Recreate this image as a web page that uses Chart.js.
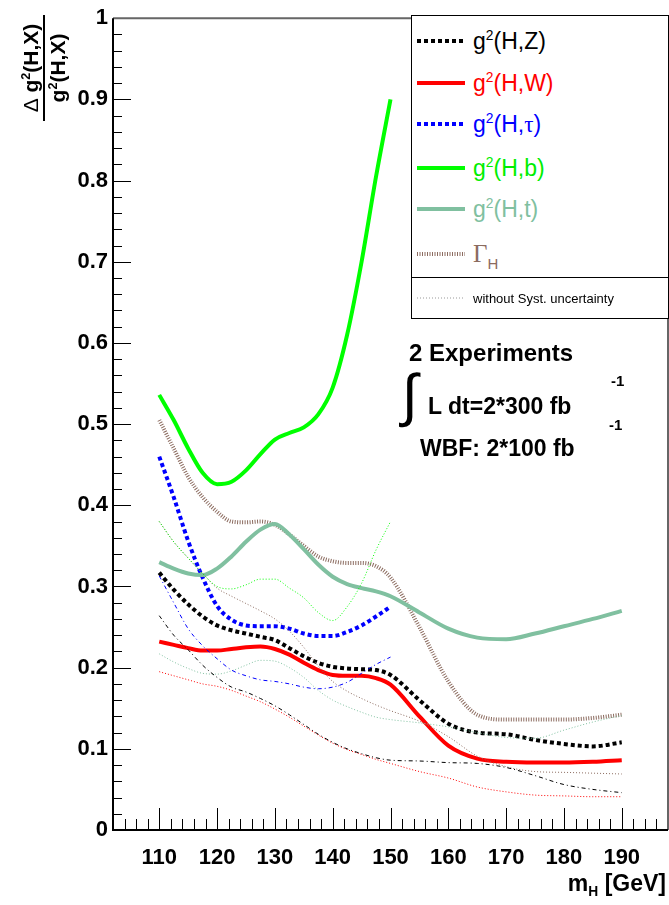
<!DOCTYPE html>
<html>
<head>
<meta charset="utf-8">
<script src="https://cdn.jsdelivr.net/npm/chart.js@4.4.1/dist/chart.umd.min.js"></script>
<style>
  body { margin: 0; background: #fff; }
  #wrap { position: relative; width: 669px; height: 905px; font-family: "Liberation Sans", Arial, sans-serif; }
  #c { position: absolute; left: 0; top: 0; }
  .abs { position: absolute; white-space: nowrap; }
  sup { font-size: 60%; vertical-align: 0; position: relative; top: -0.65em; line-height: 0; }
  sub { font-size: 60%; vertical-align: 0; position: relative; top: 0.35em; line-height: 0; }
  #legend { position: absolute; left: 411px; top: 15px; width: 258px; height: 304px; border: 1px solid #000; box-sizing: border-box; background: #fff; }
  .row { position: absolute; left: 5px; height: 30px; display: flex; align-items: center; font-size: 23px; white-space: nowrap; }
  .row svg { margin-right: 8px; }
  .serif { font-family: "Liberation Serif", "Times New Roman", serif; }
  .ann { font-weight: bold; }
</style>
</head>
<body>
<div id="wrap">
  <canvas id="c" width="669" height="905"></canvas>

  <div class="abs" style="left:18px;top:121px;width:106px;height:52px;transform-origin:0 0;transform:rotate(-90deg);font-weight:bold;font-size:21px;text-align:center;line-height:25px;">
    <div style="border-bottom:2px solid #000;"><span style="font-weight:normal">&Delta;</span> g<sup>2</sup>(H,X)</div>
    <div>g<sup>2</sup>(H,X)</div>
  </div>

  <div class="abs ann" style="right:3px;top:870px;font-size:23px;">m<sub>H</sub> [GeV]</div>

  <div id="legend">
    <div class="row" style="top:10px"><svg width="48" height="10"><line x1="0" y1="5" x2="48" y2="5" stroke="#000" stroke-width="4" stroke-dasharray="4 3"/></svg><span style="color:#000">g<sup>2</sup>(H,Z)</span></div>
    <div class="row" style="top:52px"><svg width="48" height="10"><line x1="0" y1="5" x2="48" y2="5" stroke="#ff0000" stroke-width="4"/></svg><span style="color:#ff0000">g<sup>2</sup>(H,W)</span></div>
    <div class="row" style="top:93px"><svg width="48" height="10"><line x1="0" y1="5" x2="48" y2="5" stroke="#0000ff" stroke-width="4" stroke-dasharray="4 3"/></svg><span style="color:#0000ff">g<sup>2</sup>(H,<span class="serif">&tau;</span>)</span></div>
    <div class="row" style="top:137px"><svg width="48" height="10"><line x1="0" y1="5" x2="48" y2="5" stroke="#00ff00" stroke-width="4"/></svg><span style="color:#00ee00">g<sup>2</sup>(H,b)</span></div>
    <div class="row" style="top:178px"><svg width="48" height="10"><line x1="0" y1="5" x2="48" y2="5" stroke="#80c0a0" stroke-width="4"/></svg><span style="color:#80c0a0">g<sup>2</sup>(H,t)</span></div>
    <div class="row" style="top:223px"><svg width="48" height="10"><line x1="0" y1="5" x2="48" y2="5" stroke="#8b6b5f" stroke-width="4" stroke-dasharray="1 1.5"/></svg><span style="color:#8b6b5f"><span class="serif" style="font-size:25px">&Gamma;</span><sub style="font-size:15px;top:0.45em">H</sub></span></div>
    <div style="position:absolute;left:0;right:0;top:261px;border-top:1px solid #000;"></div>
    <div class="row" style="top:267px;font-size:13px"><svg width="48" height="10"><line x1="0" y1="5" x2="48" y2="5" stroke="#999" stroke-width="1" stroke-dasharray="1 2"/></svg><span>without Syst. uncertainty</span></div>
  </div>

  <div class="abs ann" style="left:409px;top:339px;font-size:24px;">2 Experiments</div>
  <div class="abs" style="left:402px;top:362px;font-size:58px;line-height:66px;">&int;</div>
  <div class="abs ann" style="left:428px;top:393px;font-size:23px;">L dt=2*300 fb</div>
  <div class="abs ann" style="left:611px;top:372px;font-size:15px;">-1</div>
  <div class="abs ann" style="left:420px;top:435px;font-size:23px;">WBF: 2*100 fb</div>
  <div class="abs ann" style="left:609px;top:416px;font-size:15px;">-1</div>
</div>

<script>
// Higgs mass grid (GeV)
const masses = [110, 112.5, 115, 117.5, 120, 122.5, 125, 127.5, 130, 132.5, 135, 137.5, 140,
                142.5, 145, 147.5, 150, 155, 160, 165, 170, 175, 180, 185, 190];

// relative errors with systematics (thick lines)
const hzSyst   = [0.317, 0.296, 0.278, 0.263, 0.252, 0.246, 0.242, 0.238, 0.234, 0.224, 0.214, 0.206, 0.201,
                  0.199, 0.198, 0.197, 0.191, 0.160, 0.131, 0.120, 0.118, 0.111, 0.106, 0.103, 0.108];
const hwSyst   = [0.232, 0.228, 0.224, 0.221, 0.221, 0.223, 0.225, 0.226, 0.223, 0.216, 0.206, 0.197, 0.191,
                  0.190, 0.190, 0.187, 0.179, 0.140, 0.104, 0.088, 0.084, 0.083, 0.083, 0.084, 0.086];
const htauSyst = [0.460, 0.410, 0.356, 0.311, 0.276, 0.259, 0.252, 0.251, 0.251, 0.248, 0.242, 0.239, 0.239,
                  0.244, 0.252, 0.263, 0.275];
const hbSyst   = [0.536, 0.505, 0.470, 0.440, 0.426, 0.429, 0.443, 0.463, 0.481, 0.489, 0.496, 0.512, 0.545,
                  0.610, 0.700, 0.805, 0.900];
const htSyst   = [0.330, 0.322, 0.316, 0.314, 0.322, 0.337, 0.355, 0.370, 0.377, 0.364, 0.346, 0.327, 0.312,
                  0.303, 0.298, 0.294, 0.288, 0.268, 0.248, 0.237, 0.235, 0.242, 0.251, 0.260, 0.270];
const gammaSyst = [0.505, 0.470, 0.435, 0.410, 0.392, 0.380, 0.379, 0.380, 0.376, 0.364, 0.350, 0.337, 0.331,
                   0.329, 0.329, 0.325, 0.311, 0.250, 0.183, 0.142, 0.136, 0.136, 0.136, 0.138, 0.142];

// without systematic uncertainty (thin lines)
const hzStat   = [0.264, 0.240, 0.222, 0.203, 0.188, 0.176, 0.170, 0.162, 0.153, 0.142, 0.130, 0.118, 0.108,
                  0.100, 0.094, 0.089, 0.086, 0.085, 0.083, 0.082, 0.077, 0.067, 0.056, 0.050, 0.046];
const hwStat   = [0.195, 0.190, 0.185, 0.180, 0.177, 0.172, 0.165, 0.158, 0.149, 0.139, 0.128, 0.117, 0.107,
                  0.099, 0.093, 0.087, 0.082, 0.072, 0.064, 0.053, 0.047, 0.043, 0.042, 0.041, 0.041];
const htauStat = [0.313, 0.280, 0.248, 0.227, 0.211, 0.197, 0.190, 0.185, 0.183, 0.180, 0.176, 0.174, 0.176,
                  0.182, 0.193, 0.204, 0.213];
const hbStat   = [0.380, 0.355, 0.335, 0.316, 0.300, 0.297, 0.302, 0.309, 0.309, 0.298, 0.286, 0.268, 0.258,
                  0.275, 0.304, 0.345, 0.380];
const htStat   = [0.217, 0.207, 0.199, 0.193, 0.192, 0.196, 0.203, 0.209, 0.208, 0.200, 0.188, 0.172, 0.160,
                  0.152, 0.145, 0.139, 0.136, 0.132, 0.127, 0.120, 0.114, 0.113, 0.123, 0.133, 0.141];
const gammaStat = [0.380, 0.355, 0.335, 0.316, 0.298, 0.288, 0.279, 0.270, 0.260, 0.245, 0.225, 0.202, 0.183,
                   0.171, 0.162, 0.154, 0.147, 0.134, 0.115, 0.091, 0.078, 0.072, 0.071, 0.070, 0.069];

const xTicks = [110, 120, 130, 140, 150, 160, 170, 180, 190];
const yTicks = [0, 0.1, 0.2, 0.3, 0.4, 0.5, 0.6, 0.7, 0.8, 0.9, 1];

const FONT = "'Liberation Sans', Arial, sans-serif";

const pts = vals => vals.map((v, i) => ({ x: masses[i], y: v }));

function line(label, vals, color, width, dash) {
    return {
        label,
        data: pts(vals),
        borderColor: color,
        borderWidth: width,
        borderDash: dash || [],
        borderCapStyle: 'butt',
        pointRadius: 0,
        fill: false,
        cubicInterpolationMode: 'monotone',
    };
}

// ROOT style frame with inward ticks
const frameTicks = {
    id: 'frameTicks',
    afterDatasetsDraw(chart) {
        const { ctx, chartArea: a, scales: { x, y } } = chart;
        ctx.save();
        ctx.strokeStyle = '#000';
        ctx.lineWidth = 1;
        ctx.beginPath();
        for (let v = 104; v <= 196; v += 2) {
            const px = Math.round(x.getPixelForValue(v)) + 0.5;
            const len = v % 10 === 0 ? 22 : 11;
            ctx.moveTo(px, a.bottom);
            ctx.lineTo(px, a.bottom - len);
        }
        for (let i = 1; i < 50; i++) {
            const py = Math.round(y.getPixelForValue(i * 0.02)) + 0.5;
            const len = i % 5 === 0 ? 18 : 9;
            ctx.moveTo(a.left, py);
            ctx.lineTo(a.left + len, py);
        }
        ctx.stroke();

        ctx.lineWidth = 2;
        ctx.strokeStyle = '#666';
        ctx.beginPath();
        ctx.moveTo(a.left, a.top); ctx.lineTo(a.right, a.top); ctx.lineTo(a.right, a.bottom);
        ctx.stroke();
        ctx.strokeStyle = '#000';
        ctx.beginPath();
        ctx.moveTo(a.left, a.top); ctx.lineTo(a.left, a.bottom); ctx.lineTo(a.right, a.bottom);
        ctx.stroke();
        ctx.restore();
    }
};

new Chart(document.getElementById('c'), {
    type: 'line',
    data: {
        datasets: [
            line('g2(H,Z) no syst', hzStat, '#000000', 1, [4, 3, 1, 3]),
            line('g2(H,W) no syst', hwStat, '#ff0000', 1, [1, 2]),
            line('g2(H,tau) no syst', htauStat, '#0000ff', 1, [4, 3, 1, 3]),
            line('g2(H,b) no syst', hbStat, '#00ff00', 1, [1, 2]),
            line('g2(H,t) no syst', htStat, '#80c0a0', 1, [1, 2]),
            line('Gamma_H no syst', gammaStat, '#8b6b5f', 1, [1, 2]),
            line('g2(H,t)', htSyst, '#80c0a0', 4),
            line('Gamma_H', gammaSyst, '#8b6b5f', 4, [1, 1.5]),
            line('g2(H,b)', hbSyst, '#00ff00', 4),
            line('g2(H,W)', hwSyst, '#ff0000', 4),
            line('g2(H,tau)', htauSyst, '#0000ff', 4, [4, 3]),
            line('g2(H,Z)', hzSyst, '#000000', 4, [4, 3]),
        ]
    },
    options: {
        responsive: false,
        animation: false,
        layout: { padding: { top: 15, right: 1, left: 0, bottom: 0 } },
        plugins: {
            legend: { display: false },
            tooltip: { enabled: false },
        },
        scales: {
            x: {
                type: 'linear',
                min: 102,
                max: 198,
                grid: { display: false, drawTicks: false },
                border: { display: false },
                afterBuildTicks: s => { s.ticks = xTicks.map(v => ({ value: v })); },
                afterFit: s => { s.height = 75; },
                ticks: {
                    padding: 15,
                    color: '#000',
                    autoSkip: false,
                    maxRotation: 0,
                    font: { family: FONT, size: 22, weight: 'bold' },
                    callback: v => String(v),
                },
            },
            y: {
                type: 'linear',
                min: 0,
                max: 1,
                grid: { display: false, drawTicks: false },
                border: { display: false },
                afterBuildTicks: s => { s.ticks = yTicks.map(v => ({ value: v })); },
                afterFit: s => { s.width = 113; },
                ticks: {
                    padding: 5,
                    color: '#000',
                    autoSkip: false,
                    font: { family: FONT, size: 22, weight: 'bold' },
                    callback: v => (v === 0 ? '0' : v === 1 ? '1' : v.toFixed(1)),
                },
            },
        },
    },
    plugins: [frameTicks],
});
</script>
</body>
</html>
